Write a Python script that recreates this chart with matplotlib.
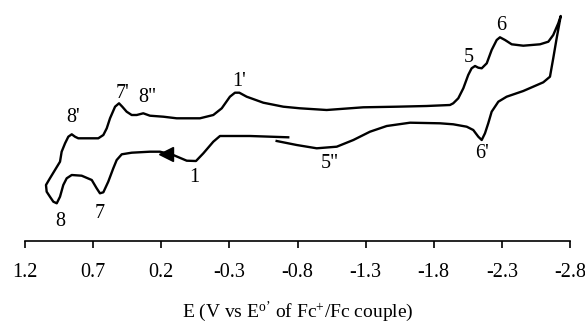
import matplotlib
matplotlib.use("Agg")
import matplotlib.pyplot as plt

plt.rcParams['font.family'] = ['Liberation Serif', 'DejaVu Serif']
plt.rcParams['mathtext.fontset'] = 'custom'
plt.rcParams['mathtext.rm'] = 'Liberation Serif'
plt.rcParams['mathtext.it'] = 'Liberation Serif:italic'

# Potential (V vs Fc+/Fc) along the scan, and current (arbitrary units)
E = [-0.732, -0.451, -0.231, -0.182, -0.109, -0.055, 0.013, 0.112, 0.209, 0.283,
     0.417, 0.490, 0.527, 0.552, 0.589, 0.625, 0.650, 0.674, 0.710, 0.784,
     0.857, 0.894, 0.919, 0.943, 0.967, 0.992, 1.017, 1.041, 1.046, 1.017,
     0.980, 0.943, 0.931, 0.906, 0.882, 0.857, 0.833, 0.809, 0.662, 0.625,
     0.600, 0.576, 0.539, 0.510, 0.486, 0.454, 0.417, 0.380, 0.332, 0.283,
     0.185, 0.087, -0.084, -0.182, -0.244, -0.304, -0.341, -0.373, -0.427, -0.549,
     -0.696, -0.818, -1.014, -1.283, -1.528, -1.748, -1.919, -1.943, -1.980, -2.017,
     -2.053, -2.078, -2.103, -2.127, -2.152, -2.189, -2.225, -2.262, -2.286, -2.323,
     -2.372, -2.457, -2.580, -2.641, -2.677, -2.714, -2.732, -2.702, -2.677, -2.653,
     -2.604, -2.457, -2.335, -2.274, -2.225, -2.200, -2.176, -2.152, -2.127, -2.090,
     -2.042, -1.943, -1.846, -1.626, -1.455, -1.332, -1.210, -1.088, -0.941, -0.794,
     -0.647]
I = [1.27, 1.40, 1.40, 0.83, -0.33, -1.10, -1.07, -0.50, -0.17, -0.17,
     -0.27, -0.43, -1.00, -1.83, -3.17, -4.23, -4.33, -3.83, -3.00, -2.57,
     -2.50, -2.83, -3.50, -4.67, -5.33, -5.17, -4.67, -4.17, -3.50, -2.83,
     -2.00, -1.17, -0.17, 0.67, 1.33, 1.57, 1.33, 1.17, 1.17, 1.50,
     2.17, 3.17, 4.33, 4.67, 4.33, 3.83, 3.50, 3.50, 3.67, 3.43,
     3.33, 3.17, 3.17, 3.50, 4.17, 5.33, 5.73, 5.73, 5.33, 4.73,
     4.33, 4.17, 4.00, 4.27, 4.33, 4.40, 4.50, 4.67, 5.17, 6.17,
     7.50, 8.17, 8.40, 8.23, 8.17, 8.67, 10.00, 11.00, 11.27, 11.00,
     10.57, 10.43, 10.57, 10.83, 11.50, 12.67, 13.40, 11.17, 9.17, 7.33,
     6.77, 5.90, 5.33, 4.83, 3.83, 2.67, 1.67, 1.00, 1.33, 2.00,
     2.33, 2.57, 2.67, 2.73, 2.40, 1.83, 1.00, 0.33, 0.17, 0.50,
     0.90]

# Peak labels and their positions
peak_labels = ["1'", "7'", '8"', "8'", "1", "7", "8", "5", "6", "6'", '5"']
peak_E = [-0.371, 0.481, 0.305, 0.848, -0.040, 0.650, 0.943, -2.059, -2.294, -2.154, -1.039]
peak_I = [6.8, 5.7, 5.2, 3.3, -2.7, -6.3, -7.2, 9.3, 12.4, -0.4, -1.3]

# Scan direction arrow
arrow_E = [0.165]
arrow_I = [-0.35]

xticks = [1.2, 0.7, 0.2, -0.3, -0.8, -1.3, -1.8, -2.3, -2.8]
xticklabels = ["1.2", "0.7", "0.2", "-0.3", "-0.8", "-1.3", "-1.8", "-2.3", "-2.8"]

FS = 14.5
fig = plt.figure(figsize=(5.85, 3.24), dpi=100)
ax = fig.add_axes([25/585, 83/324, 545/585, 236/324])
ax.plot(E, I, color='black', lw=1.7, solid_joinstyle='round', clip_on=False)
ax.plot(arrow_E, arrow_I, marker='<', ms=10, color='black', lw=0, clip_on=False)

for lab, xe, yi in zip(peak_labels, peak_E, peak_I):
    ax.text(xe, yi, lab, ha='center', va='center', fontsize=FS, clip_on=False)

ax.set_xlim(1.2, -2.8)
ax.set_ylim(-9.1, 14.5)
ax.set_xticks(xticks)
ax.set_xticklabels(xticklabels, fontsize=FS)
ax.set_yticks([])
for s in ['left', 'right', 'top']:
    ax.spines[s].set_visible(False)
ax.spines['bottom'].set_linewidth(1.2)
ax.tick_params(axis='x', direction='out', length=5.2, width=1.2, pad=10.5)
ax.set_xlabel("E (V vs E$^{\\mathrm{o\u2019}}$ of Fc$^{+}$/Fc couple)", fontsize=14, labelpad=13)

fig.savefig("out.png", dpi=100)
